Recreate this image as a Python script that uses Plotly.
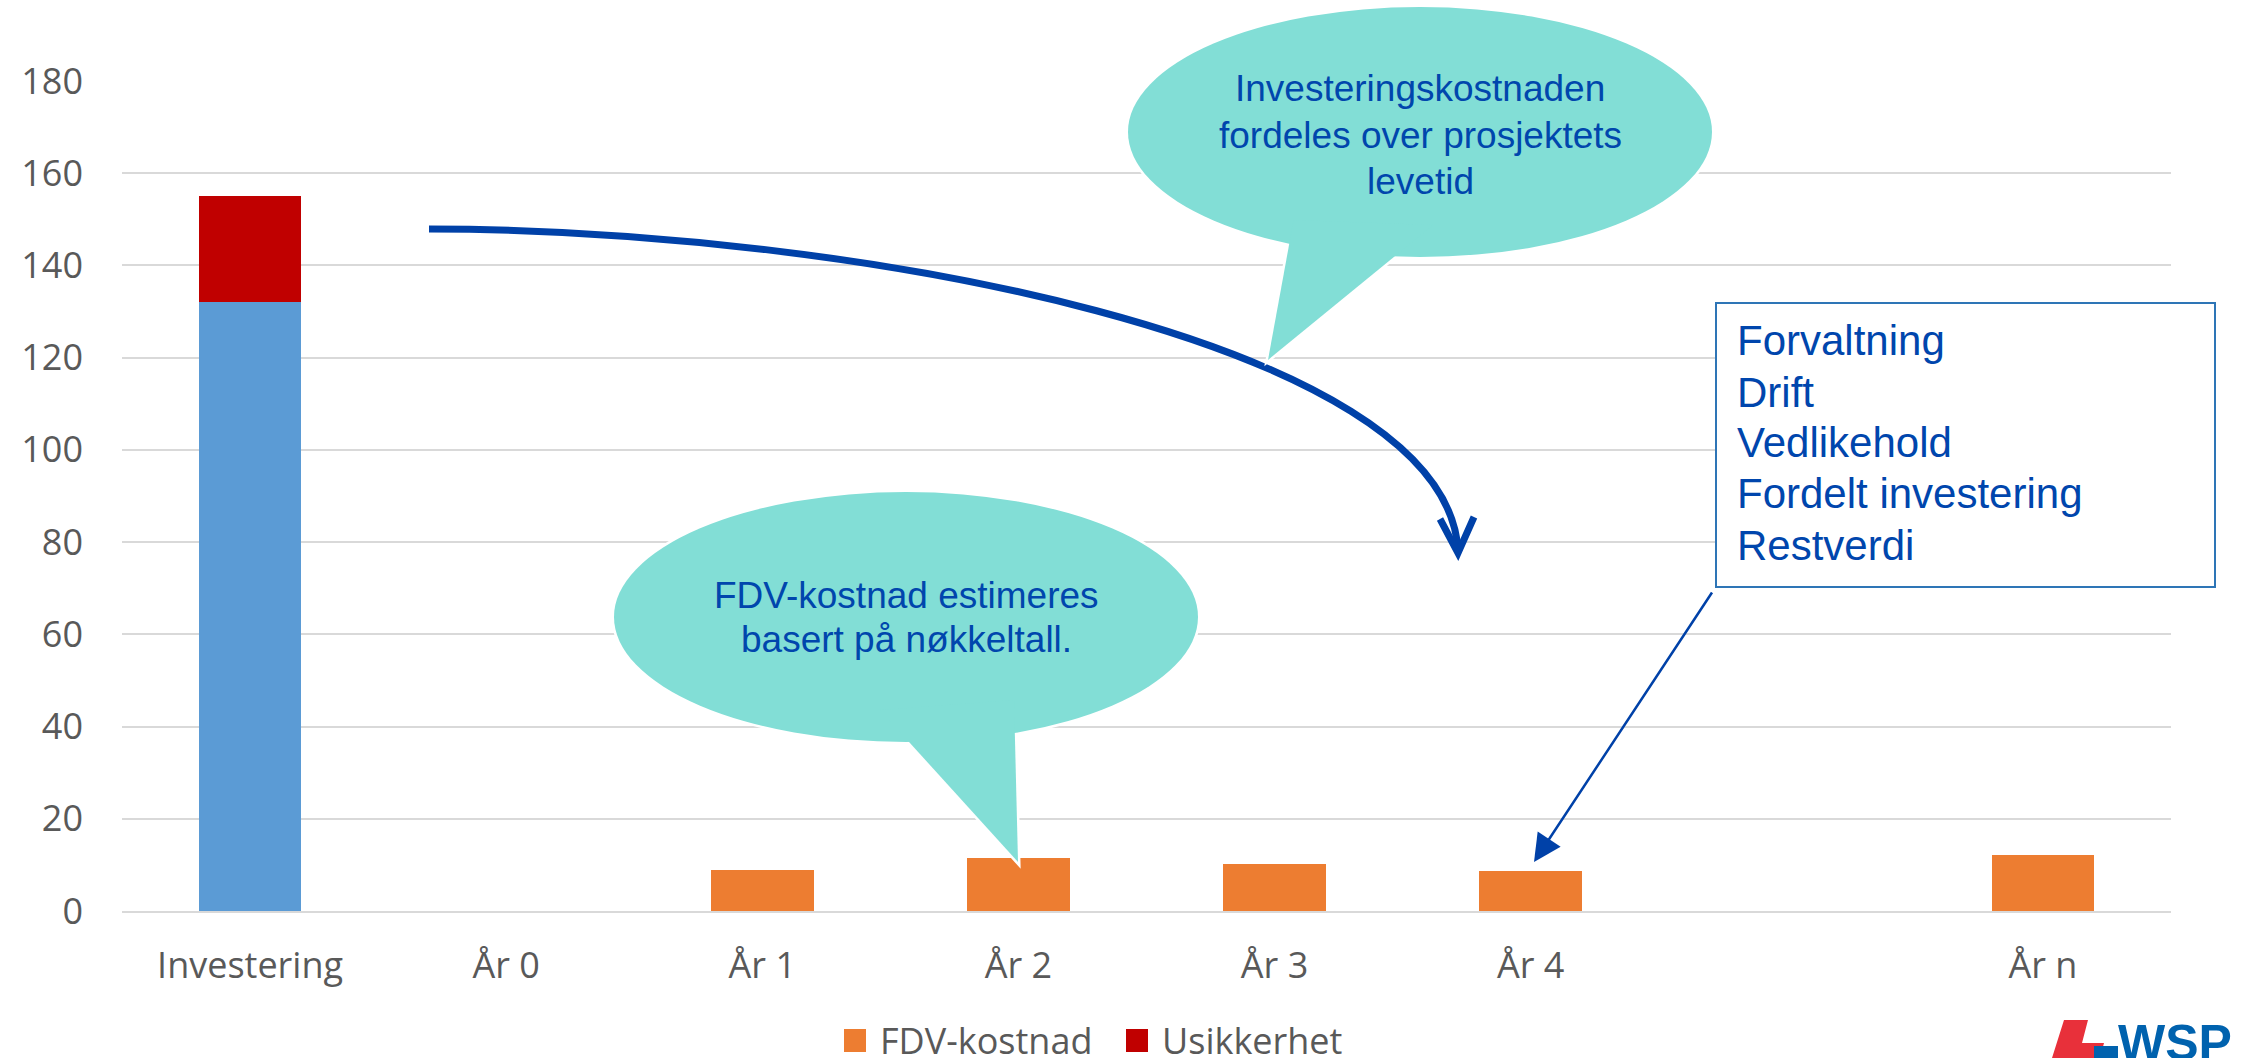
import plotly.graph_objects as go

# ---- data ----
categories = ["Investering", "År 0", "År 1", "År 2", "År 3", "År 4", " ", "År n"]
investering = [132, None, None, None, None, None, None, None]
fdv_kostnad = [None, None, 9.0, 11.5, 10.3, 8.7, None, 12.2]
usikkerhet = [23, None, None, None, None, None, None, None]
y_ticks = [0, 20, 40, 60, 80, 100, 120, 140, 160, 180]

callout_top = ["Investeringskostnaden", "fordeles over prosjektets", "levetid"]
callout_bottom = ["FDV-kostnad estimeres", "basert på nøkkeltall."]
box_lines = ["Forvaltning", "Drift", "Vedlikehold", "Fordelt investering", "Restverdi"]
legend_names = ["FDV-kostnad", "Usikkerhet"]

# ---- layout geometry (pixels) ----
W, H = 2244, 1058
L, R, T, B = 122, 73, 81, 147
PW, PH = W - L - R, H - T - B


def X(px):
    return (px - L) / PW


def Y(py):
    return (H - B - py) / PH


BLUE_BAR = "#5B9BD5"
ORANGE = "#ED7D31"
RED = "#C00000"
TEXT_BLUE = "#0046AD"
ARROW_BLUE = "#0041A8"
TEAL = "#82DED6"
GRAY = "#595959"

fig = go.Figure()
fig.add_trace(go.Bar(x=categories, y=investering, name="Investering",
                     marker=dict(color=BLUE_BAR, line=dict(width=0)), showlegend=False))
fig.add_trace(go.Bar(x=categories, y=fdv_kostnad, name=legend_names[0],
                     marker=dict(color=ORANGE, line=dict(width=0)), showlegend=False))
fig.add_trace(go.Bar(x=categories, y=usikkerhet, name=legend_names[1],
                     marker=dict(color=RED, line=dict(width=0)), showlegend=False))

shapes = []
annotations = []

# curved arrow
shapes.append(dict(type="path", xref="paper", yref="paper",
                   path=f"M{X(429)},{Y(229)} C{X(850)},{Y(229)} {X(1445)},{Y(340)} {X(1458)},{Y(550)}",
                   line=dict(color=ARROW_BLUE, width=7)))
shapes.append(dict(type="path", xref="paper", yref="paper",
                   path=f"M{X(1440)},{Y(519)} L{X(1458)},{Y(553)} L{X(1474)},{Y(517)}",
                   line=dict(color=ARROW_BLUE, width=7)))


def callout(cx, cy, rx, ry, tail):
    ell = dict(type="circle", xref="paper", yref="paper",
               x0=X(cx - rx), x1=X(cx + rx), y0=Y(cy + ry), y1=Y(cy - ry))
    p = "M" + " L".join(f"{X(a)},{Y(b)}" for a, b in tail) + " Z"
    tri = dict(type="path", xref="paper", yref="paper", path=p)
    out = []
    out.append(dict(ell, fillcolor=TEAL, line=dict(color="white", width=5)))
    out.append(dict(tri, fillcolor=TEAL, line=dict(color="white", width=5)))
    out.append(dict(ell, fillcolor=TEAL, line=dict(width=0)))
    out.append(dict(tri, fillcolor=TEAL, line=dict(width=0)))
    return out


shapes += callout(1420, 132, 292, 125, [(1268, 360), (1293.6, 220), (1433, 225)])
shapes += callout(906, 617, 292, 125, [(1018, 862), (880, 710), (1014, 700)])

for txt, yy in zip(callout_top, [88, 135, 181]):
    annotations.append(dict(xref="paper", yref="paper", x=X(1420), y=Y(yy), text=txt,
                            showarrow=False, xanchor="center", yanchor="middle",
                            font=dict(family="Liberation Sans", size=37, color=TEXT_BLUE)))
for txt, yy in zip(callout_bottom, [595, 639]):
    annotations.append(dict(xref="paper", yref="paper", x=X(906), y=Y(yy), text=txt,
                            showarrow=False, xanchor="center", yanchor="middle",
                            font=dict(family="Liberation Sans", size=37, color=TEXT_BLUE)))

# text box
shapes.append(dict(type="rect", xref="paper", yref="paper",
                   x0=X(1716), x1=X(2215), y0=Y(587), y1=Y(303),
                   fillcolor="white", line=dict(color="#2E75B6", width=2)))
for txt, yy in zip(box_lines, [340, 392, 442, 493, 545]):
    annotations.append(dict(xref="paper", yref="paper", x=X(1735), y=Y(yy), text=txt,
                            showarrow=False, xanchor="left", yanchor="middle",
                            font=dict(family="Liberation Sans", size=42, color=TEXT_BLUE)))

# straight arrow from box to År 4 bar
annotations.append(dict(xref="paper", yref="paper", x=X(1534), y=Y(862), text="",
                        showarrow=True, ax=1713 - 1534, ay=591 - 862,
                        arrowhead=2, arrowsize=2.2, arrowwidth=2.5, arrowcolor=ARROW_BLUE,
                        standoff=0))

# custom legend
for (name, col, sx, tx) in [(legend_names[0], ORANGE, 844, 878), (legend_names[1], RED, 1126, 1160)]:
    shapes.append(dict(type="rect", xref="paper", yref="paper",
                       x0=X(sx), x1=X(sx + 22), y0=Y(1052), y1=Y(1029),
                       fillcolor=col, line=dict(width=0)))
    annotations.append(dict(xref="paper", yref="paper", x=X(tx), y=Y(1040), text=name,
                            showarrow=False, xanchor="left", yanchor="middle",
                            font=dict(family="Open Sans", size=36, color=GRAY)))

# logo
shapes.append(dict(type="path", xref="paper", yref="paper",
                   path=f"M{X(2064)},{Y(1020)} L{X(2088)},{Y(1020)} L{X(2082)},{Y(1043)} L{X(2104)},{Y(1043)} L{X(2100)},{Y(1058)} L{X(2052)},{Y(1058)} Z",
                   fillcolor="#E8303A", line=dict(width=0)))
shapes.append(dict(type="rect", xref="paper", yref="paper",
                   x0=X(2094), x1=X(2118), y0=Y(1058), y1=Y(1046),
                   fillcolor="#0062AE", line=dict(width=0)))
annotations.append(dict(xref="paper", yref="paper", x=X(2116), y=Y(1043), text="<b>WSP</b>",
                        showarrow=False, xanchor="left", yanchor="middle",
                        font=dict(family="Liberation Sans", size=50, color="#0062AE")))

fig.update_layout(
    width=W, height=H, autosize=False,
    margin=dict(l=L, r=R, t=T, b=B, autoexpand=False),
    paper_bgcolor="white", plot_bgcolor="white",
    barmode="stack", bargap=0.6,
    showlegend=False,
    shapes=shapes, annotations=annotations,
    font=dict(family="Open Sans", size=36, color=GRAY),
    xaxis=dict(type="category", categoryorder="array", categoryarray=categories,
               showgrid=False, showline=True, linecolor="#D9D9D9", linewidth=2,
               ticks="", tickfont=dict(family="Open Sans", size=36, color=GRAY),
               ticklabelstandoff=22, fixedrange=True),
    yaxis=dict(range=[0, 180], tickvals=y_ticks, showgrid=True, gridcolor="#D9D9D9",
               gridwidth=2, zeroline=False, showline=False, ticks="",
               tickfont=dict(family="Open Sans", size=36, color=GRAY),
               ticklabelstandoff=38, fixedrange=True),
)

fig.write_html(
    "out.html",
    config={"displayModeBar": False, "responsive": False},
    post_script="document.body.style.margin='0';document.body.style.padding='0';document.body.style.overflow='hidden';",
)
